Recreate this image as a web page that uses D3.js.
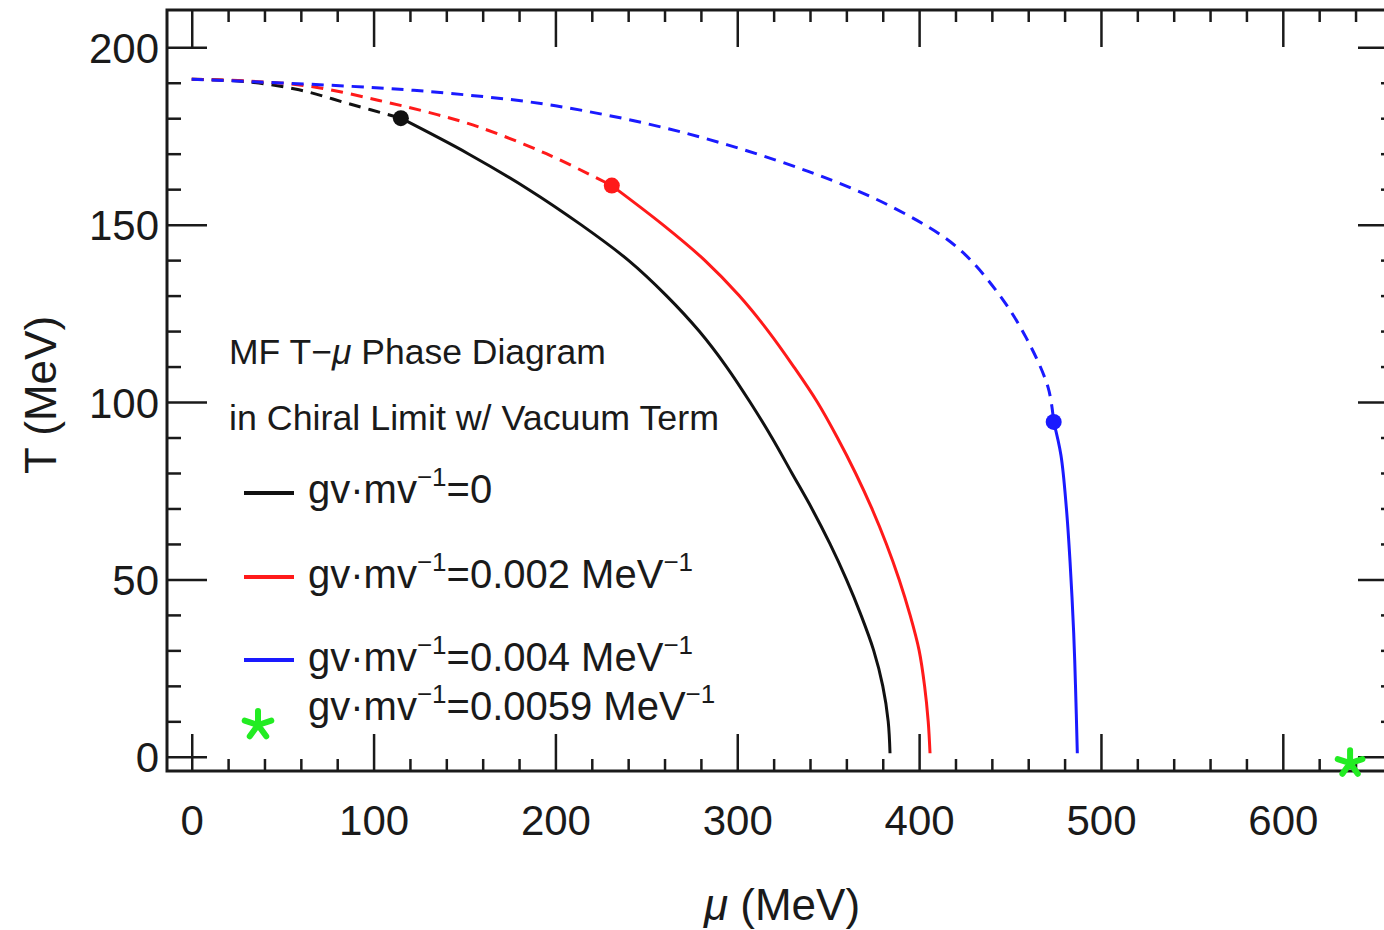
<!DOCTYPE html>
<html>
<head>
<meta charset="utf-8">
<script src="https://cdn.jsdelivr.net/npm/d3@7"></script>
<style>
  body { margin: 0; background: #fff; }
  text { font-family: "Liberation Sans", Arial, sans-serif; fill: #1a1a1a; }
</style>
</head>
<body>
<svg id="chart" width="1384" height="930"></svg>
<script>
const width = 1384;
const height = 930;

// tick labels
const xTicks = [0, 100, 200, 300, 400, 500, 600];
const yTicks = [0, 50, 100, 150, 200];

// [mu, T] in MeV
const blackDashed = [[0, 191], [30, 190.3], [59, 188], [87, 184], [115, 180]];
const blackSolid = [[115, 180], [152, 170], [185, 160], [214, 150], [240, 140], [261, 130], [279, 120],
    [294, 110], [307, 100], [319, 90], [330, 80], [341, 70], [351, 60], [360, 50], [368, 40], [375, 30],
    [380, 20], [383, 10], [384, 1]];
const redDashed = [[0, 191], [30, 190.5], [65, 189], [103, 185], [135, 181], [158, 177.5], [195, 170], [231, 161]];
const redSolid = [[231, 161], [259, 150], [282, 140], [301, 130], [317, 120], [331, 110], [344, 100],
    [355, 90], [365, 80], [374, 70], [382, 60], [389, 50], [395, 40], [400, 30], [403, 20], [405, 10], [406, 1]];
const blueDashed = [[0, 191], [87, 189], [142, 187], [200, 183.5], [270, 176], [339, 165], [385, 155],
    [420, 144], [443, 131], [459, 118], [471, 104], [474, 94.4]];
const blueSolid = [[474, 94.4], [478, 85], [481, 70], [483, 55], [485, 35], [486, 20], [487, 1]];
const criticalPoints = [[115, 180, 'black'], [231, 161, 'red'], [474, 94.4, 'blue']];
const greenPoint = [637, -1.8];

const svg = d3.select('#chart');

const mLeft = 167, mRight = 1395, mTop = 10, mBottom = 771;

const x = d3.scaleLinear()
    .domain([-13.6, 661.7]) // unit: MeV
    .range([mLeft, mRight]);

const y = d3.scaleLinear()
    .domain([-4, 210.5]) // unit: MeV
    .range([mBottom, mTop]);

// ticks
function tickAxis(axis, transform) {
    const g = svg.append('g').attr('transform', transform).call(axis);
    g.select('.domain').remove();
    g.selectAll('.tick line').attr('stroke', '#1a1a1a').attr('stroke-width', 2.5);
    return g;
}

const xMinor = d3.range(20, 661, 20).filter(d => d % 100 !== 0);
const yMinor = d3.range(10, 201, 10).filter(d => d % 50 !== 0);

tickAxis(d3.axisBottom(x).tickValues(xMinor).tickSize(-12).tickFormat(''), `translate(0,${mBottom})`);
tickAxis(d3.axisTop(x).tickValues(xMinor).tickSize(-12).tickFormat(''), `translate(0,${mTop})`);
tickAxis(d3.axisLeft(y).tickValues(yMinor).tickSize(-14).tickFormat(''), `translate(${mLeft},0)`);
tickAxis(d3.axisRight(y).tickValues(yMinor).tickSize(-14).tickFormat(''), `translate(${mRight},0)`);
tickAxis(d3.axisTop(x).tickValues(xTicks).tickSize(-37).tickFormat(''), `translate(0,${mTop})`);
tickAxis(d3.axisRight(y).tickValues(yTicks).tickSize(-37).tickFormat(''), `translate(${mRight},0)`);

const xAx = tickAxis(d3.axisBottom(x).tickValues(xTicks).tickSize(-37).tickPadding(34), `translate(0,${mBottom})`);
xAx.selectAll('text').attr('font-size', 42).attr('fill', '#1a1a1a')
    .style('font-family', '"Liberation Sans", Arial, sans-serif');

const yAx = tickAxis(d3.axisLeft(y).tickValues(yTicks).tickSize(-40).tickPadding(8), `translate(${mLeft},0)`);
yAx.selectAll('text').attr('font-size', 42).attr('fill', '#1a1a1a').attr('dy', '0.36em')
    .style('font-family', '"Liberation Sans", Arial, sans-serif');

// frame
svg.append('rect')
    .attr('x', mLeft).attr('y', mTop)
    .attr('width', mRight - mLeft).attr('height', mBottom - mTop)
    .attr('fill', 'none').attr('stroke', '#1a1a1a').attr('stroke-width', 3);

// curves
const line = d3.line()
    .x(d => x(d[0]))
    .y(d => y(d[1]))
    .curve(d3.curveCatmullRom.alpha(0.5));

const curves = [
    [blackDashed, 'black', true], [redDashed, 'red', true], [blueDashed, 'blue', true],
    [blackSolid, 'black', false], [redSolid, 'red', false], [blueSolid, 'blue', false]
];

const colors = { black: '#111', red: '#ff1a1a', blue: '#1a1aff' };

curves.forEach(c => {
    svg.append('path')
        .attr('d', line(c[0]))
        .attr('fill', 'none')
        .attr('stroke', colors[c[1]])
        .attr('stroke-width', 3)
        .attr('stroke-dasharray', c[2] ? '12,8' : null);
});

svg.append('g')
    .selectAll('circle')
    .data(criticalPoints)
    .enter().append('circle')
    .attr('cx', d => x(d[0]))
    .attr('cy', d => y(d[1]))
    .attr('r', 8)
    .attr('fill', d => colors[d[2]]);

// five armed asterisk
function star(r) {
    let p = '';
    for (let i = 0; i < 5; i++) {
        const a = -Math.PI / 2 + i * 2 * Math.PI / 5;
        p += `M0,0L${(r * Math.cos(a)).toFixed(2)},${(r * Math.sin(a)).toFixed(2)}`;
    }
    return p;
}

const green = '#22ec22';

svg.append('path')
    .attr('d', star(13))
    .attr('transform', `translate(${x(greenPoint[0])},${y(greenPoint[1])})`)
    .attr('stroke', green).attr('stroke-width', 6).attr('stroke-linecap', 'round').attr('fill', 'none');

// axis titles
svg.append('text')
    .attr('transform', 'translate(56,395) rotate(-90)')
    .attr('text-anchor', 'middle')
    .attr('font-size', 44)
    .text('T (MeV)');

const xt = svg.append('text')
    .attr('x', 782).attr('y', 920)
    .attr('text-anchor', 'middle')
    .attr('font-size', 44);
xt.append('tspan').attr('font-style', 'italic').text('μ');
xt.append('tspan').text(' (MeV)');

// legend
const h1 = svg.append('text').attr('x', 229).attr('y', 364).attr('font-size', 35.5);
h1.append('tspan').text('MF T−');
h1.append('tspan').attr('font-style', 'italic').text('μ');
h1.append('tspan').text(' Phase Diagram');

svg.append('text').attr('x', 229).attr('y', 430).attr('font-size', 35.8)
    .text('in Chiral Limit w/ Vacuum Term');

const legendItems = [
    { color: colors.black, label: ['=0'], ly: 493, ty: 503 },
    { color: colors.red, label: ['=0.002 MeV', '−1'], ly: 577, ty: 588 },
    { color: colors.blue, label: ['=0.004 MeV', '−1'], ly: 660, ty: 671 },
    { color: null, label: ['=0.0059 MeV', '−1'], ly: 725, ty: 720 }
];

legendItems.forEach(item => {
    if (item.color) {
        svg.append('line')
            .attr('x1', 244).attr('x2', 294)
            .attr('y1', item.ly).attr('y2', item.ly)
            .attr('stroke', item.color).attr('stroke-width', 4);
    } else {
        svg.append('path')
            .attr('d', star(14))
            .attr('transform', `translate(258,${item.ly})`)
            .attr('stroke', green).attr('stroke-width', 6).attr('stroke-linecap', 'round').attr('fill', 'none');
    }
    const t = svg.append('text').attr('x', 308).attr('y', item.ty).attr('font-size', 40);
    t.append('tspan').text('gv·mv');
    t.append('tspan').attr('font-size', 26).attr('dy', -17).text('−1');
    t.append('tspan').attr('dy', 17).text(item.label[0]);
    if (item.label[1]) {
        t.append('tspan').attr('font-size', 26).attr('dy', -17).text(item.label[1]);
    }
});
</script>
</body>
</html>
